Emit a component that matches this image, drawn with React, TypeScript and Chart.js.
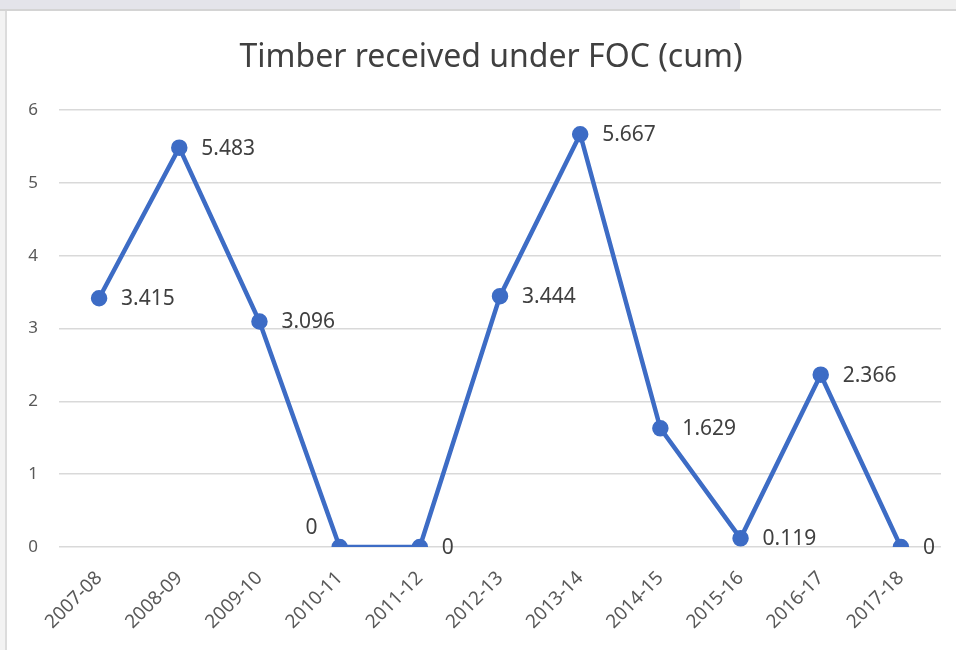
import React, { useEffect, useRef } from "react";
import { Chart, registerables } from "chart.js";

Chart.register(...registerables);

const categories = [
  "2007-08", "2008-09", "2009-10", "2010-11", "2011-12", "2012-13",
  "2013-14", "2014-15", "2015-16", "2016-17", "2017-18",
];
const timberValues = [3.415, 5.483, 3.096, 0, 0, 3.444, 5.667, 1.629, 0.119, 2.366, 0];
const valueLabels = ["3.415", "5.483", "3.096", "0", "0", "3.444", "5.667", "1.629", "0.119", "2.366", "0"];
const yTicks = [0, 1, 2, 3, 4, 5, 6];
const titleText = "Timber received under FOC (cum)";

const FONT = "'Noto Sans', 'Open Sans', sans-serif";
const BLUE = "#3d6cc5";

const titlePlugin = {
  id: "customTitle",
  afterDraw(chart: any) {
    const ctx = chart.ctx;
    ctx.save();
    ctx.font = `32px ${FONT}`;
    ctx.fillStyle = "#404040";
    ctx.textAlign = "center";
    ctx.textBaseline = "middle";
    ctx.fillText(titleText, 491, 58);
    ctx.restore();
  },
};

const dataLabelPlugin = {
  id: "dataLabels",
  afterDatasetsDraw(chart: any) {
    const ctx = chart.ctx;
    const meta = chart.getDatasetMeta(0);
    ctx.save();
    ctx.font = `21px ${FONT}`;
    ctx.fillStyle = "#404040";
    ctx.textBaseline = "middle";
    meta.data.forEach((pt: any, i: number) => {
      const text = valueLabels[i];
      if (i === 3) {
        ctx.textAlign = "right";
        ctx.fillText(text, pt.x - 22, pt.y - 19);
      } else {
        ctx.textAlign = "left";
        ctx.fillText(text, pt.x + 22, pt.y + 1);
      }
    });
    ctx.restore();
  },
};

export default function App() {
  const ref = useRef<HTMLCanvasElement>(null);
  useEffect(() => {
    if (!ref.current) return;
    const chart = new Chart(ref.current, {
      type: "line",
      data: {
        labels: categories,
        datasets: [
          {
            data: timberValues,
            borderColor: BLUE,
            backgroundColor: BLUE,
            borderWidth: 4.5,
            pointRadius: 6,
            pointHoverRadius: 6,
            pointBackgroundColor: BLUE,
            pointBorderColor: BLUE,
            tension: 0,
          },
        ],
      },
      options: {
        animation: false,
        responsive: false,
        maintainAspectRatio: false,
        layout: { padding: { left: 0, right: 15, top: 110, bottom: 0 } },
        plugins: {
          legend: { display: false },
          tooltip: { enabled: false },
          title: { display: false },
        },
        scales: {
          x: {
            offset: true,
            grid: { display: false, drawTicks: false },
            border: { display: false },
            ticks: {
              color: "#595959",
              font: { family: FONT, size: 19 },
              minRotation: 45,
              maxRotation: 45,
              padding: 20,
            },
            afterFit(scale: any) {
              scale.height = 103;
            },
          },
          y: {
            min: 0,
            max: 6,
            afterBuildTicks(scale: any) {
              scale.ticks = yTicks.map((v) => ({ value: v }));
            },
            grid: { color: "#d9d9d9", lineWidth: 1.5, drawTicks: false },
            border: { display: false },
            ticks: {
              color: "#595959",
              font: { family: FONT, size: 17 },
              padding: 21,
            },
            afterFit(scale: any) {
              scale.width = 59;
            },
          },
        },
      },
      plugins: [dataLabelPlugin, titlePlugin],
    });
    return () => chart.destroy();
  }, []);

  return (
    <div style={{ position: "fixed", left: 0, top: 0, width: 956, height: 650, background: "#ffffff", overflow: "hidden" }}>
      <div style={{ position: "absolute", left: 0, top: 0, width: 740, height: 9, background: "#e4e4ea" }} />
      <div style={{ position: "absolute", left: 740, top: 0, width: 216, height: 9, background: "#efefef" }} />
      <div style={{ position: "absolute", left: 0, top: 9, width: 956, height: 2, background: "#d4d4d4" }} />
      <div style={{ position: "absolute", left: 0, top: 11, width: 5, height: 639, background: "#f3f3f3" }} />
      <div style={{ position: "absolute", left: 5, top: 11, width: 2, height: 639, background: "#dcdcdc" }} />
      <canvas ref={ref} width={956} height={650} style={{ position: "absolute", left: 0, top: 0, width: 956, height: 650 }} />
    </div>
  );
}
